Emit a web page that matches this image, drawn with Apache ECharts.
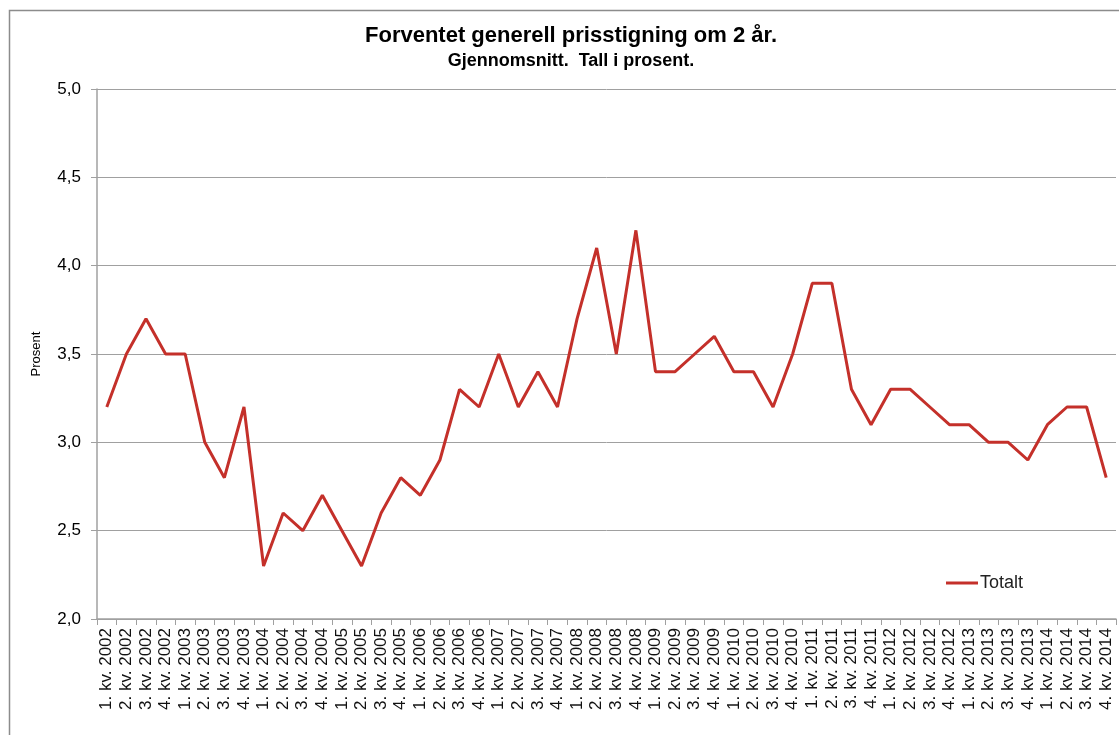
<!DOCTYPE html>
<html>
<head>
<meta charset="utf-8">
<script src="https://cdn.jsdelivr.net/npm/echarts@6/dist/echarts.min.js"></script>
<style>
  html, body { margin: 0; padding: 0; background: #fff; }
  #chart { width: 1119px; height: 735px; }
</style>
</head>
<body>
<div id="chart"></div>
<script>
// kvartaler 2002-2014
const years = [2002, 2003, 2004, 2005, 2006, 2007, 2008, 2009, 2010, 2011, 2012, 2013, 2014];
const quarters = [];
years.forEach(y => { for (let q = 1; q <= 4; q++) quarters.push(q + '. kv. ' + y); });

const totalt = [
  3.2, 3.5, 3.7, 3.5,
  3.5, 3.0, 2.8, 3.2,
  2.3, 2.6, 2.5, 2.7,
  2.5, 2.3, 2.6, 2.8,
  2.7, 2.9, 3.3, 3.2,
  3.5, 3.2, 3.4, 3.2,
  3.7, 4.1, 3.5, 4.2,
  3.4, 3.4, 3.5, 3.6,
  3.4, 3.4, 3.2, 3.5,
  3.9, 3.9, 3.3, 3.1,
  3.3, 3.3, 3.2, 3.1,
  3.1, 3.0, 3.0, 2.9,
  3.1, 3.2, 3.2, 2.8
];

const chart = echarts.init(document.getElementById('chart'));
const font = 'Liberation Sans, Arial, sans-serif';

chart.setOption({
  animation: false,
  textStyle: { fontFamily: font },
  graphic: [{
    type: 'rect',
    shape: { x: 9.5, y: 10.5, width: 1200, height: 800 },
    style: { fill: 'none', stroke: '#8c8c8c', lineWidth: 1.5 },
    silent: true
  }],
  title: {
    text: 'Forventet generell prisstigning om 2 år.',
    subtext: 'Gjennomsnitt.  Tall i prosent.',
    left: 566, top: 20, textAlign: 'center', itemGap: 5,
    textStyle: { fontFamily: font, fontSize: 22, fontWeight: 'bold', color: '#000' },
    subtextStyle: { fontFamily: font, fontSize: 18, fontWeight: 'bold', color: '#000' }
  },
  legend: {
    left: 941, top: 569, itemWidth: 32, itemHeight: 3, itemGap: 4,
    icon: 'rect',
    textStyle: { fontFamily: font, fontSize: 18, color: '#222', padding: [0, 0, 0, -3] },
    data: ['Totalt']
  },
  grid: { left: 97, right: 3, top: 89, bottom: 116 },
  xAxis: {
    type: 'category',
    data: quarters,
    boundaryGap: true,
    axisLine: { lineStyle: { color: '#a0a0a0', width: 1.5 } },
    axisTick: { show: true, length: 6, alignWithLabel: false, lineStyle: { color: '#a0a0a0' } },
    axisLabel: { interval: 0, rotate: 90, fontFamily: font, fontSize: 17, color: '#111', margin: 9 }
  },
  yAxis: {
    type: 'value',
    min: 2, max: 5, interval: 0.5,
    name: 'Prosent',
    nameLocation: 'middle',
    nameGap: 54,
    nameTextStyle: { fontFamily: font, fontSize: 13, color: '#000' },
    axisLine: { show: true, lineStyle: { color: '#a0a0a0', width: 1.5 } },
    axisTick: { show: true, length: 6, lineStyle: { color: '#a0a0a0' } },
    axisLabel: {
      fontFamily: font, fontSize: 17, color: '#000', margin: 16,
      formatter: v => v.toFixed(1).replace('.', ',')
    },
    splitLine: { lineStyle: { color: '#a0a0a0', width: 1 } }
  },
  series: [{
    name: 'Totalt',
    type: 'line',
    data: totalt,
    symbol: 'none',
    lineStyle: { color: '#c4302a', width: 3 },
    itemStyle: { color: '#c4302a' }
  }]
});
</script>
</body>
</html>
